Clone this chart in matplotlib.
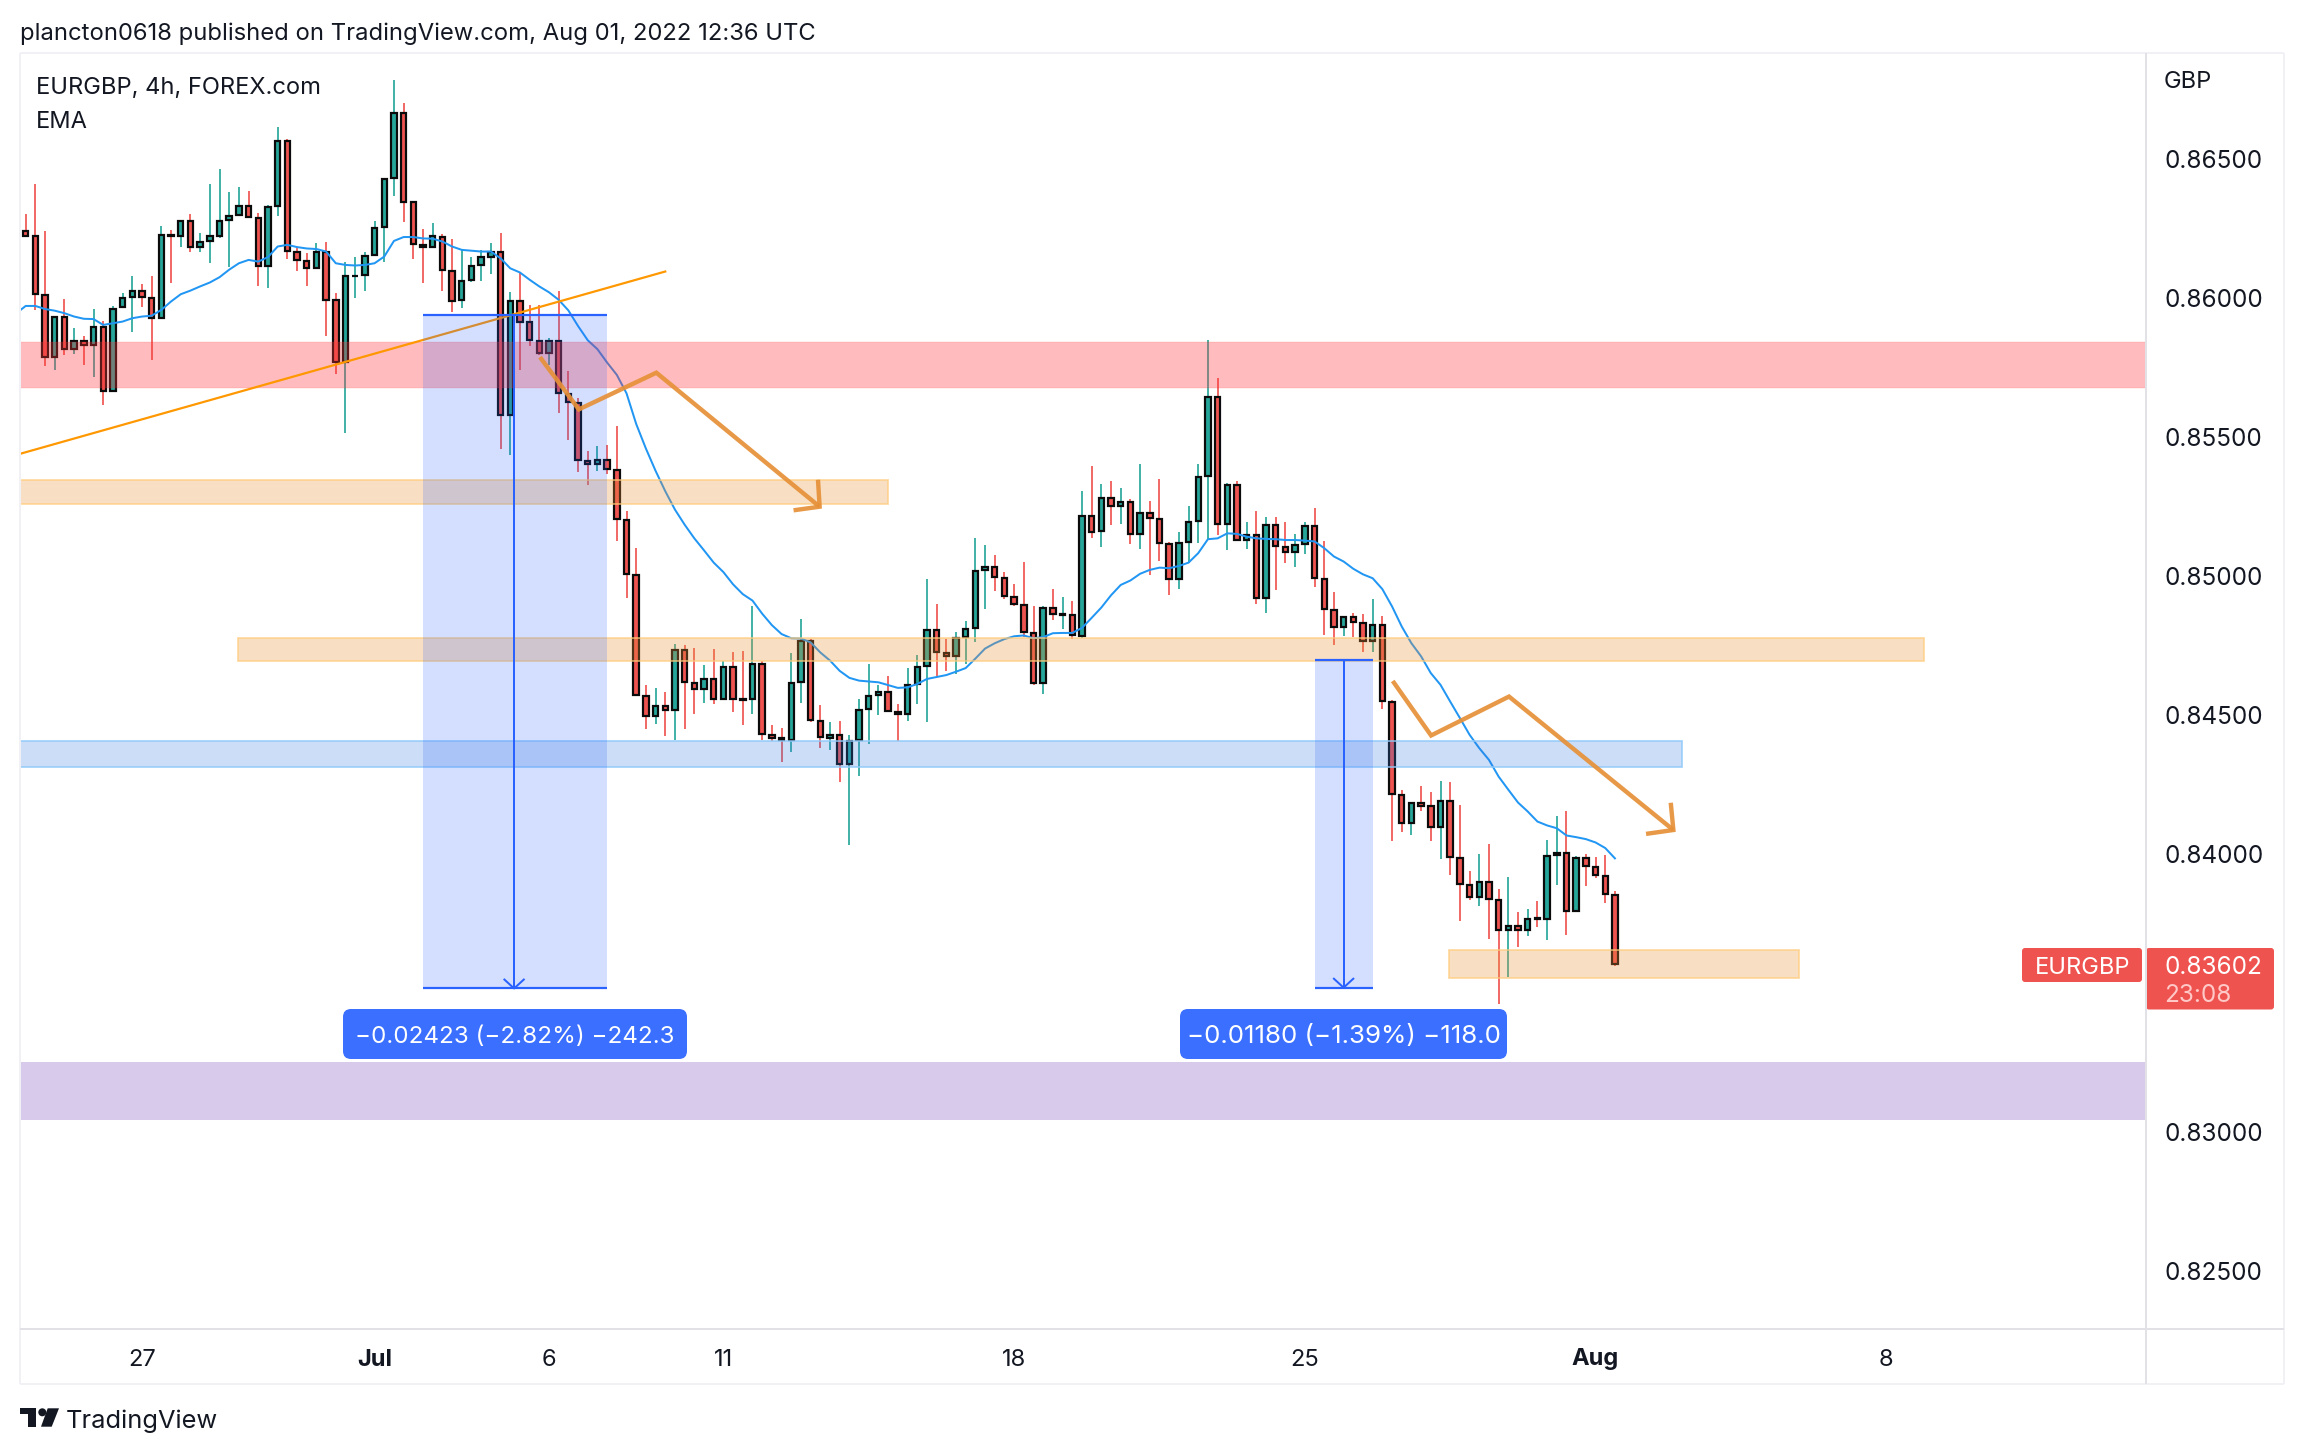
import numpy as np
import matplotlib
matplotlib.use("Agg")
import matplotlib.pyplot as plt
from matplotlib.patches import Rectangle, FancyBboxPatch, Polygon, Circle

# ---- prices, in 1e-5 units ----
direction = ("RRRGRGRGRG" "GGRRGRGRGG" "GGGRRGGRRR" "GRRGGGGGGR" "RRGRRGGGGR"
             "GRRRGRRRRG" "RRRRRGRGRR" "GRGRRGRRRG" "GRRGRGGGGR" "RGGGRRGGGG"
             "RRRRRGRGRG" "RGRGRGRRRG" "GGGRGRGRGR" "RGGRRRGRRG" "RRRGRRGRRR"
             "GRRGRGRGGR" "GRRRR")
body_top = [
 86242,86221,86012,85931,85931,85847,85847,85895,85895,85962,
 86002,86024,86024,86002,86228,86228,86275,86275,86203,86221,
 86278,86296,86332,86332,86288,86328,86565,86565,86167,86134,
 86167,86167,85992,86078,86080,86152,86253,86428,86665,86665,
 86343,86192,86221,86220,86099,86063,86116,86146,86166,86166,
 85988,85988,85913,85848,85848,85846,85656,85625,85416,85419,
 85419,85384,85205,85008,84573,84538,84538,84740,84740,84622,
 84635,84635,84679,84679,84562,84689,84689,84434,84425,84622,
 84772,84772,84485,84434,84433,84412,84524,84573,84589,84588,
 84518,84613,84679,84810,84810,84728,84781,84815,85022,85037,
 85037,84998,84929,84900,84799,84888,84888,84869,84864,85220,
 85220,85284,85284,85271,85271,85231,85231,85210,85120,85124,
 85199,85360,85647,85647,85332,85332,85151,85151,85187,85187,
 85108,85116,85184,85184,84995,84883,84858,84858,84836,84829,
 84829,84554,84220,84192,84192,84178,84198,84198,83994,83897,
 83908,83908,83843,83748,83748,83775,83777,84002,84013,84013,
 83994,83994,83962,83929,83861]
body_bottom = [
 86223,86014,85790,85790,85818,85818,85833,85833,85668,85668,
 85967,86005,86005,85929,85929,86223,86223,86183,86184,86205,
 86223,86280,86299,86291,86116,86116,86331,86170,86136,86109,
 86107,85994,85772,85772,86078,86084,86155,86256,86431,86345,
 86195,86183,86185,86102,85990,85992,86066,86118,86148,85582,
 85582,85915,85851,85803,85805,85659,85628,85419,85406,85406,
 85388,85210,85011,84576,84503,84503,84524,84524,84624,84600,
 84600,84564,84564,84564,84559,84562,84437,84425,84417,84415,
 84624,84488,84427,84425,84330,84330,84415,84528,84576,84521,
 84509,84510,84617,84682,84733,84717,84717,84785,84818,85027,
 85000,84932,84902,84803,84620,84620,84869,84864,84791,84788,
 85161,85164,85254,85255,85154,85154,85211,85123,84994,84994,
 85126,85202,85363,85191,85191,85134,85134,84926,84926,85112,
 85090,85090,85119,84997,84886,84822,84822,84840,84772,84772,
 84556,84223,84118,84118,84180,84105,84105,83998,83901,83853,
 83853,83847,83736,83736,83736,83736,83775,83775,84005,83804,
 83804,83965,83933,83865,83612]
highs = [
 86302,86410,86241,85931,85998,85894,85865,85962,85919,85972,
 86018,86080,86051,86080,86257,86245,86281,86302,86233,86410,
 86464,86381,86399,86385,86305,86334,86613,86570,86185,86161,
 86197,86201,86018,86130,86147,86167,86277,86430,86782,86699,
 86346,86248,86269,86231,86211,86173,86147,86173,86199,86233,
 86021,86093,85976,85976,85857,86027,85739,85641,85451,85469,
 85472,85542,85237,85106,84613,84603,84588,84759,84755,84747,
 84686,84741,84699,84733,84736,84898,84699,84471,84459,84728,
 84850,84777,84541,84481,84484,84433,84562,84689,84613,84645,
 84547,84676,84720,84993,84904,84778,84803,84842,85139,85115,
 85081,85018,84976,85055,84895,84898,84959,84927,84913,85308,
 85398,85334,85344,85319,85279,85406,85273,85352,85125,85162,
 85255,85406,85850,85713,85337,85345,85196,85237,85217,85217,
 85199,85155,85196,85247,85130,84946,84861,84871,84867,84922,
 84861,84560,84238,84192,84250,84231,84270,84265,84184,83947,
 84008,84044,83883,83926,83800,83811,83840,84058,84145,84162,
 84001,84008,83998,84005,83876]
lows = [
 86223,85958,85755,85741,85797,85798,85759,85719,85618,85662,
 85964,85877,85970,85777,85929,86054,86182,86166,86165,86125,
 86214,86113,86296,86289,86045,86035,86293,86141,86099,86042,
 86107,85866,85729,85516,85999,86024,86153,86131,86367,86274,
 86141,86056,86183,86027,85952,85963,86057,86060,86087,85460,
 85436,85741,85829,85797,85761,85590,85493,85378,85330,85381,
 85371,85129,84924,84573,84456,84474,84430,84418,84456,84510,
 84550,84547,84562,84515,84471,84510,84418,84411,84339,84374,
 84550,84481,84389,84379,84266,84041,84288,84401,84507,84518,
 84412,84485,84547,84481,84642,84664,84652,84690,84769,84886,
 84952,84920,84895,84785,84613,84582,84847,84813,84778,84781,
 85139,85109,85188,85191,85119,85101,85008,85058,84936,84958,
 85052,85124,85134,85151,85098,85131,85102,84904,84873,84954,
 85052,85038,85083,84966,84793,84757,84789,84787,84732,84732,
 84529,84056,84087,84076,84160,84056,83990,83933,83769,83843,
 83822,83704,83471,83566,83675,83714,83747,83700,83897,83718,
 83804,83894,83922,83833,83605]
ema = [85945,
 85972,85972,85961,85955,85946,85934,85926,85925,85904,85910,
 85916,85928,85934,85937,85958,85988,86014,86027,86042,86056,
 86075,86102,86125,86137,86131,86147,86185,86191,86183,86178,
 86176,86167,86125,86119,86117,86119,86125,86149,86205,86219,
 86219,86214,86213,86203,86185,86173,86170,86167,86167,86143,
 86107,86092,86066,86042,86021,85994,85956,85900,85849,85817,
 85769,85725,85659,85549,85461,85381,85308,85242,85188,85139,
 85096,85052,85018,84974,84939,84916,84869,84828,84796,84781,
 84780,84766,84730,84701,84664,84639,84629,84626,84623,84613,
 84603,84605,84617,84635,84642,84649,84661,84674,84708,84744,
 84763,84778,84788,84791,84781,84785,84799,84800,84800,84818,
 84854,84891,84935,84972,84988,85012,85026,85034,85032,85040,
 85052,85086,85136,85139,85157,85155,85145,85139,85137,85136,
 85133,85133,85131,85128,85104,85074,85056,85030,85010,84996,
 84957,84895,84823,84763,84716,84656,84614,84554,84495,84435,
 84387,84345,84285,84238,84192,84160,84124,84110,84100,84074,
 84068,84061,84049,84029,83992]

price_ticks = [0.865, 0.86, 0.855, 0.85, 0.845, 0.84, 0.83, 0.825]
date_bars = [12, 36, 54, 72, 102, 132, 162, 192]
date_labels = ["27", "Jul", "6", "11", "18", "25", "Aug", "8"]
bold_dates = {"Jul", "Aug"}

def to_price(v):
    # readings were scaled slightly tight against the price axis: calibrate
    return 0.865 + (np.asarray(v, dtype=float) / 1e5 - 0.865) * 1.0036

tops, bots, his, los, ema_p = map(to_price, (body_top, body_bottom, highs, lows, ema))
x = np.arange(len(tops))
up = np.array([c == "G" for c in direction])

plt.rcParams["font.family"] = ["Inter", "DejaVu Sans"]
W, H = 2304, 1454
fig = plt.figure(figsize=(W / 100, H / 100), dpi=100, facecolor="white")
L, T, R, B = 20, 53, 2145, 1329
ax = fig.add_axes([L / W, 1 - B / H, (R - L) / W, (B - T) / H])
ax.set_xlim(-0.588, 218.7)
ax.set_ylim(0.82290, 0.86880)
ax.axis("off")

GREEN, RED = "#26a69a", "#ef5350"
colors = np.where(up, GREEN, RED)
px = 0.72
ax.vlines(x, los, his, colors=colors, lw=1.7 * px, zorder=2)
ax.bar(x, tops - bots, bottom=bots, width=0.56, color=colors, edgecolor="#0b0b0b",
       linewidth=2.2 * px, zorder=3)
ax.plot(np.arange(-1, len(tops)), ema_p, color="#2196f3", lw=2.0 * px, zorder=4)

ORANGE = (235 / 255, 146 / 255, 58 / 255, 0.30)
ORANGE_E = (1, 0.80, 0.48, 0.7)
BLUE = (48 / 255, 120 / 255, 224 / 255, 0.25)
BLUE_E = (0.56, 0.79, 0.98, 0.8)

def zone(x0, x1, p0, p1, fc, ec="none"):
    ax.add_patch(Rectangle((x0, p0), x1 - x0, p1 - p0, facecolor=fc, edgecolor=ec,
                           lw=1.8 * px, zorder=5))

zone(-3, 225, 0.85674, 0.85841, (1, 0.2, 0.22, 0.33), (1, 0.2, 0.22, 0.08))
zone(-3, 89.0, 0.85257, 0.85344, ORANGE, ORANGE_E)
zone(21.9, 195.9, 0.84693, 0.84774, ORANGE, ORANGE_E)
zone(-3, 170.9, 0.84312, 0.84404, BLUE, BLUE_E)
zone(146.9, 183.0, 0.83553, 0.83654, ORANGE, ORANGE_E)
zone(-3, 225, 0.83043, 0.83252, "#d8caeb")

# trend line
ax.plot([-0.6, 66], [0.85438, 0.86094], color="#ff9800", lw=2.2 * px, zorder=6)

# price range measurements
for x0, x1, xm, ptop, pbot in [(41.0, 60.0, 50.4, 0.85938, 0.83515),
                               (133.0, 139.0, 136.0, 0.84697, 0.83518)]:
    ax.add_patch(Rectangle((x0, pbot), x1 - x0, ptop - pbot, facecolor=(41/255, 98/255, 1, 0.2),
                           edgecolor="none", zorder=6))
    ax.plot([x0, x1], [ptop, ptop], color="#2962ff", lw=2.2 * px, zorder=7, solid_capstyle="butt")
    ax.plot([x0, x1], [pbot, pbot], color="#2962ff", lw=2.2 * px, zorder=7, solid_capstyle="butt")
    ax.plot([xm, xm], [ptop, pbot], color="#2962ff", lw=2.0 * px, zorder=7)
    ax.plot([xm - 1.0, xm, xm + 1.0], [pbot + 0.00032, pbot, pbot + 0.00032],
            color="#2962ff", lw=2.0 * px, zorder=7)

# projected paths
PATH = "#e69138"
for xs, ps, axs, aps in [
    ([53.07, 57.08, 65.08, 81.93], [0.85786, 0.85598, 0.85730, 0.85248],
     [81.76, 81.93, 79.24], [0.85345, 0.85248, 0.85235]),
    ([141.07, 145.03, 153.07, 170.03], [0.84621, 0.84425, 0.84565, 0.84085],
     [169.76, 170.03, 167.21], [0.84183, 0.84085, 0.84071]),
]:
    ax.plot(xs, ps, color=PATH, lw=4.4 * px, alpha=0.92, zorder=8, solid_joinstyle="miter", solid_capstyle="butt")
    ax.plot(axs, aps, color=PATH, lw=4.4 * px, alpha=0.92, zorder=8, solid_joinstyle="miter", solid_capstyle="butt")

# ---- chrome: frame, axis labels, tags (pixel space) ----
ch = fig.add_axes([0, 0, 1, 1], zorder=10)
ch.set_xlim(0, W); ch.set_ylim(H, 0); ch.axis("off"); ch.patch.set_alpha(0)
FRAME, SEP, INK = "#f0f0f5", "#e2e2e6", "#131722"
for a, b, c in [((19.5, 53), (2284, 53), FRAME), ((19.5, 53), (19.5, 1384), FRAME),
                ((2284, 53), (2284, 1384), FRAME), ((19.5, 1384), (2284, 1384), FRAME),
                ((2145.5, 53), (2145.5, 1384), SEP), ((19.5, 1329), (2284, 1329), SEP)]:
    ch.plot([a[0], b[0]], [a[1], b[1]], color=c, lw=2 * px, solid_capstyle="butt")

def label(x_, y_, s, size=16, color=INK, ha="left", weight="normal"):
    return ch.text(x_, y_, s, fontsize=size, color=color, ha=ha, va="center_baseline", fontweight=weight)

label(20, 31, "plancton0618 published on TradingView.com, Aug 01, 2022 12:36 UTC", 17.15)
label(36, 85, "EURGBP, 4h, FOREX.com", 17.05)
label(36, 119, "EMA", 17)
label(2164, 80, "GBP", 17)

y_of = lambda p: T + (ax.get_ylim()[1] - p) / (ax.get_ylim()[1] - ax.get_ylim()[0]) * (B - T)
for p in price_ticks:
    label(2164, y_of(p), f"{p:.5f}", 17.5)
x_of = lambda b: L + (b - ax.get_xlim()[0]) / (ax.get_xlim()[1] - ax.get_xlim()[0]) * (R - L)
for b, s in zip(date_bars, date_labels):
    label(x_of(b), 1357, s, 17, ha="center", weight="bold" if s in bold_dates else "normal")

def box(x0, y0, x1, y1, fc, r=5):
    ch.add_patch(FancyBboxPatch((x0 + r, y0 + r), x1 - x0 - 2 * r, y1 - y0 - 2 * r,
                                boxstyle=f"round,pad={r},rounding_size={r}", fc=fc, ec="none"))

TAG = "#ef5350"
box(2022, 948, 2142, 982, TAG, 3)
box(2146, 948, 2274, 1009.5, TAG, 3)
label(2035, 965, "EURGBP", 17, "white")
label(2164, 965, "0.83602", 17.5, "white")
label(2164, 993, "23:08", 17.5, "#ffc9c8")

LABEL = "#3a6fff"
box(343, 1009, 687, 1059, LABEL, 8)
box(1180, 1009, 1507, 1059, LABEL, 8)
label(515, 1034, "\u22120.02423 (\u22122.82%) \u2212242.3", 17.4, "white", ha="center")
label(1343.5, 1034, "\u22120.01180 (\u22121.39%) \u2212118.0", 18.7, "white", ha="center")

# TradingView mark
LOGO = "#131722"
ch.add_patch(Polygon([(20, 1408.3), (36, 1408.3), (36, 1426.7), (28.3, 1426.7), (28.3, 1413.6), (20, 1413.6)], fc=LOGO, ec="none"))
ch.add_patch(Circle((42.3, 1412.3), 4, fc=LOGO, ec="none"))
ch.add_patch(Polygon([(47.7, 1408.3), (59, 1408.3), (51.7, 1426.7), (41, 1426.7)], fc=LOGO, ec="none"))
label(66, 1419, "TradingView", 18.3)

fig.savefig("out.png", dpi=100, facecolor="white")
